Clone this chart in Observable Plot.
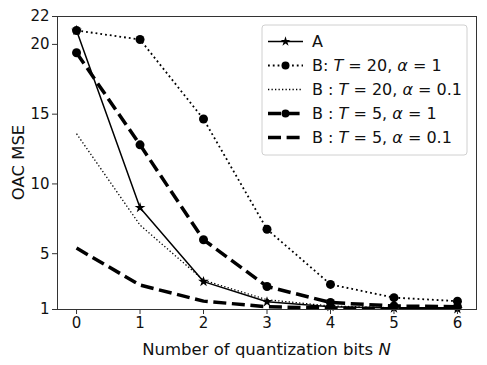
<!DOCTYPE html>
<html><head><meta charset="utf-8">
<script src="https://cdn.jsdelivr.net/npm/d3@7"></script>
<script src="https://cdn.jsdelivr.net/npm/@observablehq/plot@0.6"></script>
<style>body{margin:0;background:#fff} svg{font-family:"DejaVu Sans",sans-serif}</style>
</head><body><div id="chart"></div>
<script>
const bits = [0, 1, 2, 3, 4, 5, 6];
const yTicks = [1, 5, 10, 15, 20, 22];
const seriesKeys = ["A", "B20a1", "B20a01", "B5a1", "B5a01"];
const mseA      = [21.0, 8.3, 3.0, 1.55, 1.2, 1.1, 1.05];
const mseB20a1  = [21.0, 20.35, 14.65, 6.75, 2.8, 1.85, 1.6];
const mseB20a01 = [13.6, 7.05, 3.1, 1.7, 1.25, 1.12, 1.08];
const mseB5a1   = [19.4, 12.8, 6.0, 2.65, 1.5, 1.25, 1.2];
const mseB5a01  = [5.4, 2.75, 1.6, 1.2, 1.1, 1.05, 1.05];

const values = {A: mseA, B20a1: mseB20a1, B20a01: mseB20a01, B5a1: mseB5a1, B5a01: mseB5a01};
const styles = {
  A:      {sw: 1.5, dash: null,   marker: "star"},
  B20a1:  {sw: 1.8, dash: "1.8,3", marker: "circle"},
  B20a01: {sw: 1.3, dash: "1.3,2.2", marker: null},
  B5a1:   {sw: 3.5, dash: "13,5.6", marker: "circle"},
  B5a01:  {sw: 3.5, dash: "13,5.6", marker: null}
};
const table = seriesKeys.map(k => bits.map((b, i) => ({key: k, N: b, mse: values[k][i]})));

const marks = [];
seriesKeys.forEach((k, j) => {
  const s = styles[k];
  marks.push(Plot.line(table[j], {x: "N", y: "mse", stroke: "black", strokeWidth: s.sw, strokeDasharray: s.dash, strokeLinecap: "butt", clip: true}));
});
seriesKeys.forEach((k, j) => {
  const s = styles[k];
  if (s.marker) marks.push(Plot.dot(table[j], {x: "N", y: "mse", symbol: s.marker, fill: "black", stroke: "none", r: s.marker === "star" ? 3.4 : 4.5}));
});

const plot = Plot.plot({
  width: 487, height: 365,
  marginLeft: 57, marginRight: 11, marginTop: 16, marginBottom: 56,
  x: {domain: [-0.3, 6.3]},
  y: {domain: [1, 22]},
  style: {fontFamily: "DejaVu Sans, sans-serif", background: "white"},
  marks: [
    ...marks,
    Plot.frame({stroke: "#333", strokeWidth: 1}),
    Plot.axisX({ticks: bits, tickFormat: d3.format("d"), tickSize: 5, tickPadding: 3, fontSize: 15, label: null, stroke: "#333", color: "#111"}),
    Plot.axisY({ticks: yTicks, tickFormat: d3.format("d"), tickSize: 5, tickPadding: 3, fontSize: 15, label: null, stroke: "#333", color: "#111"})
  ]
});
document.getElementById("chart").appendChild(plot);

const svg = d3.select(plot);
// axis labels
const xl = svg.append("text").attr("x", (57 + 476) / 2).attr("y", 355).attr("text-anchor", "middle")
  .attr("font-size", 16.5).attr("fill", "#111");
xl.append("tspan").text("Number of quantization bits ");
xl.append("tspan").attr("font-style", "italic").text("N");
svg.append("text").attr("transform", `translate(24,${(16 + 309) / 2}) rotate(-90)`).attr("text-anchor", "middle")
  .attr("font-size", 16.5).attr("fill", "#111").text("OAC MSE");

// legend
const lg = svg.append("g").attr("text-anchor", "start");
lg.append("rect").attr("x", 262).attr("y", 25).attr("width", 205).attr("height", 130).attr("rx", 3)
  .attr("fill", "white").attr("fill-opacity", 0.85).attr("stroke", "#d0d0d0");
const legendText = {
  A: [["A", false]],
  B20a1: [["B: ", false], ["T", true], [" = 20, ", false], ["α", true], [" = 1", false]],
  B20a01: [["B : ", false], ["T", true], [" = 20, ", false], ["α", true], [" = 0.1", false]],
  B5a1: [["B : ", false], ["T", true], [" = 5, ", false], ["α", true], [" = 1", false]],
  B5a01: [["B : ", false], ["T", true], [" = 5, ", false], ["α", true], [" = 0.1", false]]
};
seriesKeys.forEach((k, i) => {
  const s = styles[k];
  const y = 41.5 + i * 24;
  lg.append("line").attr("x1", 268).attr("x2", 303).attr("y1", y).attr("y2", y)
    .attr("stroke", "black").attr("stroke-width", s.sw).attr("stroke-dasharray", s.dash);
  if (s.marker === "star") {
    lg.append("path").attr("d", d3.symbol(d3.symbolStar, 30)()).attr("transform", `translate(285.5,${y})`).attr("fill", "black");
  } else if (s.marker === "circle") {
    lg.append("circle").attr("cx", 285.5).attr("cy", y).attr("r", 4).attr("fill", "black");
  }
  const t = lg.append("text").attr("x", 312).attr("y", y).attr("dy", "0.36em").attr("font-size", 16).attr("fill", "#111").attr("text-anchor", "start");
  legendText[k].forEach(([str, it]) => {
    const ts = t.append("tspan").text(str);
    if (it) ts.attr("font-style", "italic");
  });
});
</script>
</body></html>
